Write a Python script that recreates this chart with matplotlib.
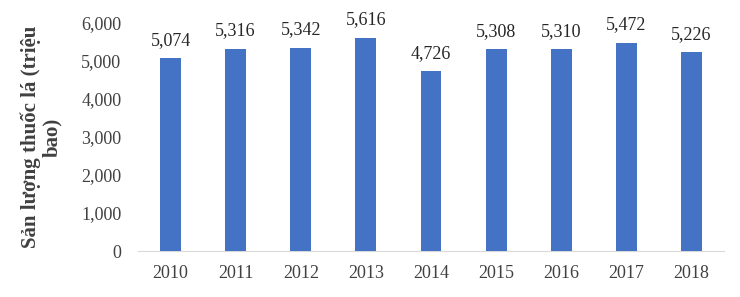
import matplotlib
matplotlib.use("Agg")
import matplotlib.pyplot as plt
import matplotlib.ticker as plticker

years = ["2010", "2011", "2012", "2013", "2014", "2015", "2016", "2017", "2018"]
output = [5074, 5316, 5342, 5616, 4726, 5308, 5310, 5472, 5226]
ylabel = "Sản lượng thuốc lá (triệu\nbao)"

plt.rcParams['font.family'] = ['Liberation Serif', 'DejaVu Serif']

fig = plt.figure(figsize=(7.40, 2.97), dpi=100)
ax = fig.add_axes([138/740, 46/297, 586/740, 228/297])

bars = ax.bar(years, output, width=0.32, color="#4472C4", zorder=3)
for b, v in zip(bars, output):
    ax.text(b.get_x() + b.get_width()/2, v + 250, f"{v:,}", ha='center', va='bottom',
            fontsize=13, color="#262626")

ax.set_ylim(0, 6000)
ax.set_xlim(-0.5, len(years) - 0.5)
ax.yaxis.set_major_locator(plticker.MultipleLocator(1000))
ax.yaxis.set_major_formatter(plticker.StrMethodFormatter("{x:,.0f}"))

for s in ['top', 'right', 'left']:
    ax.spines[s].set_visible(False)
ax.spines['bottom'].set_color("#D9D9D9")
ax.tick_params(axis='both', length=0, labelsize=13, colors="#404040")
ax.tick_params(axis='y', pad=12)
ax.tick_params(axis='x', pad=10)

ax.set_ylabel(ylabel, fontsize=15, fontweight='bold', color="#404040",
              linespacing=1.05)
ax.yaxis.set_label_coords(-0.13, 0.5)

fig.savefig("out.png", dpi=100)
